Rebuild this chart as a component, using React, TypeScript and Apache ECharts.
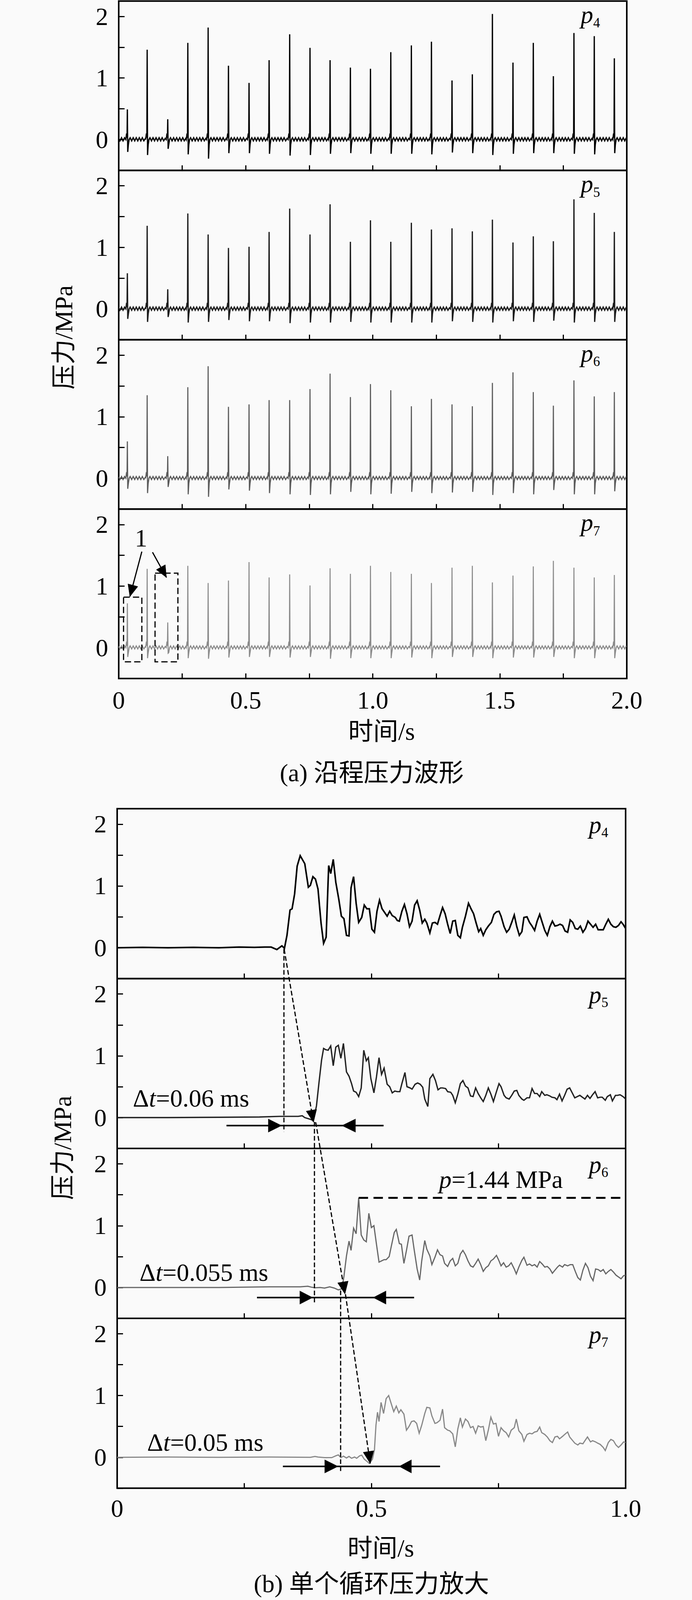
import React, { useEffect, useRef } from 'react';
import * as echarts from 'echarts';

const FONT = "'Liberation Serif','Times New Roman','Noto Sans CJK SC',serif";
const BG = '#fafafa';

// ---------------- Panel (a): pressure waveforms along the line ----------------
const SPIKE_TIMES = [0.034, 0.112, 0.193, 0.272, 0.352, 0.432, 0.513, 0.592, 0.673, 0.753, 0.832, 0.912, 0.991,
  1.071, 1.152, 1.231, 1.312, 1.392, 1.471, 1.552, 1.632, 1.711, 1.792, 1.872, 1.951];

const A_P4_PEAKS = [0.49, 1.46, 0.33, 1.57, 1.82, 1.20, 0.92, 1.29, 1.71, 1.49, 1.29, 1.17, 1.15, 1.42, 1.53, 1.59, 0.96, 1.06, 2.04, 1.25, 1.57, 1.03, 1.73, 1.68, 1.32];
const A_P4_DIPS = [-0.20, -0.25, -0.15, -0.24, -0.31, -0.22, -0.22, -0.23, -0.26, -0.25, -0.23, -0.22, -0.23, -0.23, -0.23, -0.24, -0.21, -0.22, -0.25, -0.23, -0.22, -0.22, -0.23, -0.24, -0.22];
const A_P5_PEAKS = [0.58, 1.35, 0.32, 1.55, 1.21, 0.99, 1.01, 1.25, 1.63, 1.21, 1.70, 1.09, 1.44, 1.09, 1.40, 1.29, 1.31, 1.26, 1.45, 1.08, 1.18, 1.10, 1.78, 1.56, 1.25];
const A_P5_DIPS = [-0.16, -0.21, -0.13, -0.22, -0.21, -0.18, -0.20, -0.20, -0.23, -0.22, -0.22, -0.21, -0.22, -0.22, -0.22, -0.22, -0.20, -0.21, -0.22, -0.20, -0.21, -0.19, -0.22, -0.21, -0.21];
const A_P6_PEAKS = [0.60, 1.35, 0.36, 1.48, 1.82, 1.16, 1.20, 1.27, 1.27, 1.45, 1.70, 1.32, 1.53, 1.43, 1.17, 1.29, 1.20, 1.17, 1.55, 1.72, 1.40, 1.18, 1.59, 1.33, 1.40];
const A_P6_DIPS = [-0.17, -0.24, -0.14, -0.26, -0.30, -0.18, -0.20, -0.24, -0.26, -0.27, -0.26, -0.22, -0.26, -0.25, -0.22, -0.24, -0.23, -0.22, -0.27, -0.24, -0.26, -0.19, -0.26, -0.26, -0.21];
const A_P7_PEAKS = [0.72, 1.28, 0.41, 1.33, 1.05, 1.09, 1.39, 1.14, 1.19, 1.01, 1.29, 1.20, 1.33, 1.23, 1.20, 1.05, 1.30, 1.33, 1.06, 1.17, 1.32, 1.41, 1.30, 1.14, 1.18];
const A_P7_DIPS = [-0.15, -0.17, -0.09, -0.17, -0.18, -0.16, -0.15, -0.15, -0.16, -0.15, -0.18, -0.17, -0.17, -0.17, -0.16, -0.17, -0.15, -0.15, -0.17, -0.16, -0.16, -0.15, -0.17, -0.17, -0.17];

// baseline ripple: [offset from spike (s), pressure (MPa)]
const LEAD_IN = [[0, 0.02], [0.005, -0.02], [0.011, 0.03], [0.017, -0.02], [0.023, 0.03]];
const RIPPLE_BEFORE = [[-0.006, 0.0], [-0.003, 0.1], [-0.0012, 0.03]];
const DIP_OFFSET = 0.0015;
const RIPPLE_AFTER = [[0.004, -0.08], [0.007, 0.0], [0.011, 0.03], [0.017, -0.02], [0.023, 0.03], [0.029, -0.02],
  [0.035, 0.03], [0.041, -0.02], [0.047, 0.03], [0.053, -0.02], [0.059, 0.03], [0.065, -0.02], [0.071, 0.02]];

// ---------------- Panel (b): single cycle enlarged ----------------
const B_P4 = [[0, 0], [0.05, 0.005], [0.1, 0], [0.15, 0.005], [0.2, 0], [0.24, 0.01], [0.27, 0.005], [0.29, 0.01],
  [0.303, 0.01], [0.314, -0.03], [0.324, 0.03], [0.329, -0.01], [0.334, 0.20], [0.340, 0.61], [0.344, 0.63], [0.349, 0.87],
  [0.354, 1.32], [0.360, 1.49], [0.369, 1.36], [0.376, 0.98], [0.380, 1.01], [0.385, 1.15], [0.390, 1.11], [0.395, 0.95],
  [0.401, 0.40], [0.406, 0.07], [0.411, 0.17], [0.416, 1.33], [0.420, 1.20], [0.425, 1.43], [0.430, 1.06], [0.436, 0.78],
  [0.441, 0.51], [0.446, 0.47], [0.451, 0.20], [0.456, 0.19], [0.460, 0.97], [0.465, 1.15], [0.470, 0.72], [0.475, 0.41],
  [0.481, 0.49], [0.486, 0.69], [0.491, 0.63], [0.496, 0.63], [0.501, 0.30], [0.506, 0.25], [0.511, 0.59], [0.516, 0.77],
  [0.521, 0.63], [0.526, 0.57], [0.531, 0.51], [0.536, 0.59], [0.541, 0.52], [0.547, 0.49], [0.551, 0.44], [0.555, 0.43],
  [0.560, 0.59], [0.565, 0.70], [0.570, 0.55], [0.575, 0.34], [0.580, 0.43], [0.585, 0.69], [0.590, 0.76], [0.595, 0.61],
  [0.600, 0.40], [0.605, 0.46], [0.609, 0.40], [0.615, 0.24], [0.620, 0.40], [0.625, 0.41], [0.630, 0.38], [0.635, 0.52],
  [0.640, 0.65], [0.645, 0.55], [0.650, 0.38], [0.655, 0.23], [0.660, 0.43], [0.665, 0.44], [0.670, 0.20], [0.675, 0.16],
  [0.679, 0.33], [0.685, 0.51], [0.691, 0.72], [0.696, 0.63], [0.701, 0.55], [0.706, 0.40], [0.711, 0.26], [0.715, 0.31],
  [0.720, 0.20], [0.725, 0.29], [0.730, 0.35], [0.736, 0.41], [0.741, 0.54], [0.746, 0.58], [0.751, 0.59], [0.755, 0.51],
  [0.761, 0.34], [0.766, 0.25], [0.771, 0.30], [0.776, 0.41], [0.781, 0.53], [0.786, 0.34], [0.791, 0.20], [0.796, 0.26],
  [0.800, 0.49], [0.806, 0.50], [0.811, 0.41], [0.816, 0.35], [0.821, 0.28], [0.826, 0.43], [0.831, 0.54], [0.836, 0.41],
  [0.841, 0.28], [0.846, 0.20], [0.851, 0.34], [0.856, 0.43], [0.861, 0.35], [0.866, 0.36], [0.871, 0.38], [0.876, 0.36],
  [0.881, 0.27], [0.886, 0.25], [0.891, 0.45], [0.896, 0.41], [0.901, 0.31], [0.906, 0.30], [0.911, 0.35], [0.916, 0.25],
  [0.921, 0.31], [0.926, 0.43], [0.931, 0.38], [0.936, 0.33], [0.941, 0.38], [0.946, 0.29], [0.951, 0.29], [0.956, 0.29],
  [0.961, 0.38], [0.966, 0.46], [0.971, 0.38], [0.976, 0.34], [0.981, 0.33], [0.986, 0.36], [0.991, 0.42], [0.995, 0.38],
  [1.000, 0.31]];

const B_P5 = [[0, 0], [0.1, 0], [0.2, 0.005], [0.28, 0.01], [0.32, 0.02], [0.356, 0.02], [0.364, 0.03], [0.369, 0.0],
  [0.381, -0.03], [0.386, -0.05], [0.392, 0.19], [0.397, 0.57], [0.402, 0.93], [0.406, 1.12], [0.410, 1.10], [0.415, 1.09],
  [0.420, 1.16], [0.425, 0.84], [0.430, 1.14], [0.435, 1.17], [0.440, 0.96], [0.445, 1.20], [0.451, 0.74], [0.456, 0.67],
  [0.461, 0.55], [0.465, 0.43], [0.470, 0.41], [0.475, 0.34], [0.480, 0.48], [0.485, 1.09], [0.490, 0.92], [0.494, 0.97],
  [0.499, 0.63], [0.505, 0.40], [0.510, 0.66], [0.515, 0.97], [0.520, 0.70], [0.525, 0.80], [0.531, 0.54], [0.536, 0.50],
  [0.541, 0.40], [0.546, 0.43], [0.551, 0.42], [0.556, 0.42], [0.560, 0.55], [0.566, 0.73], [0.570, 0.50], [0.576, 0.48],
  [0.580, 0.46], [0.586, 0.54], [0.591, 0.56], [0.596, 0.54], [0.601, 0.49], [0.605, 0.30], [0.611, 0.18], [0.615, 0.63],
  [0.621, 0.70], [0.626, 0.60], [0.631, 0.45], [0.636, 0.48], [0.640, 0.48], [0.646, 0.47], [0.650, 0.42], [0.656, 0.41],
  [0.660, 0.36], [0.665, 0.24], [0.670, 0.38], [0.675, 0.55], [0.680, 0.60], [0.685, 0.51], [0.690, 0.48], [0.695, 0.35],
  [0.700, 0.34], [0.705, 0.48], [0.710, 0.39], [0.715, 0.32], [0.720, 0.26], [0.725, 0.36], [0.730, 0.48], [0.735, 0.38],
  [0.740, 0.26], [0.746, 0.42], [0.751, 0.55], [0.755, 0.50], [0.761, 0.36], [0.765, 0.32], [0.771, 0.30], [0.776, 0.36],
  [0.781, 0.43], [0.786, 0.44], [0.790, 0.36], [0.796, 0.30], [0.800, 0.28], [0.806, 0.32], [0.811, 0.32], [0.816, 0.47],
  [0.821, 0.39], [0.826, 0.39], [0.831, 0.34], [0.835, 0.42], [0.841, 0.36], [0.845, 0.37], [0.851, 0.35], [0.855, 0.33],
  [0.861, 0.32], [0.865, 0.29], [0.870, 0.38], [0.875, 0.27], [0.880, 0.36], [0.885, 0.46], [0.890, 0.48], [0.895, 0.40],
  [0.900, 0.32], [0.905, 0.34], [0.910, 0.36], [0.915, 0.33], [0.920, 0.30], [0.925, 0.36], [0.930, 0.31], [0.935, 0.37],
  [0.940, 0.42], [0.945, 0.32], [0.950, 0.33], [0.954, 0.33], [0.960, 0.28], [0.964, 0.34], [0.970, 0.37], [0.974, 0.27],
  [0.980, 0.36], [0.984, 0.36], [0.989, 0.37], [0.995, 0.34], [1.000, 0.30]];

const B_P6 = [[0, 0], [0.1, 0], [0.2, 0], [0.3, 0.01], [0.36, 0.01], [0.375, 0.02], [0.382, 0.005], [0.389, -0.005],
  [0.399, 0.0], [0.408, -0.01], [0.418, 0.01], [0.427, -0.01], [0.435, -0.04], [0.442, -0.02], [0.446, 0.18], [0.451, 0.51],
  [0.456, 0.75], [0.460, 0.60], [0.465, 0.96], [0.470, 0.87], [0.475, 1.45], [0.480, 0.85], [0.485, 0.77], [0.490, 0.74],
  [0.495, 1.20], [0.500, 0.97], [0.505, 1.00], [0.510, 0.70], [0.515, 0.41], [0.520, 0.43], [0.525, 0.45], [0.529, 0.45],
  [0.535, 0.50], [0.539, 0.66], [0.545, 0.89], [0.549, 0.94], [0.555, 0.71], [0.559, 0.70], [0.564, 0.39], [0.569, 0.60],
  [0.574, 0.83], [0.580, 0.85], [0.584, 0.62], [0.590, 0.30], [0.595, 0.12], [0.599, 0.43], [0.605, 0.76], [0.609, 0.62],
  [0.615, 0.51], [0.619, 0.37], [0.625, 0.49], [0.630, 0.61], [0.635, 0.53], [0.640, 0.51], [0.644, 0.39], [0.650, 0.34],
  [0.655, 0.43], [0.660, 0.47], [0.665, 0.35], [0.670, 0.39], [0.675, 0.54], [0.680, 0.60], [0.685, 0.53], [0.690, 0.43],
  [0.695, 0.35], [0.700, 0.33], [0.705, 0.39], [0.710, 0.46], [0.715, 0.37], [0.720, 0.26], [0.725, 0.32], [0.730, 0.35],
  [0.735, 0.43], [0.740, 0.46], [0.746, 0.52], [0.750, 0.45], [0.755, 0.35], [0.760, 0.40], [0.765, 0.33], [0.770, 0.35],
  [0.775, 0.40], [0.781, 0.30], [0.785, 0.22], [0.790, 0.33], [0.796, 0.44], [0.800, 0.49], [0.806, 0.36], [0.811, 0.38],
  [0.816, 0.35], [0.821, 0.37], [0.826, 0.33], [0.831, 0.42], [0.836, 0.38], [0.841, 0.33], [0.846, 0.34], [0.851, 0.30],
  [0.856, 0.23], [0.861, 0.28], [0.866, 0.33], [0.870, 0.36], [0.876, 0.33], [0.880, 0.37], [0.886, 0.35], [0.891, 0.37],
  [0.896, 0.37], [0.901, 0.26], [0.906, 0.16], [0.911, 0.12], [0.916, 0.28], [0.921, 0.39], [0.926, 0.32], [0.931, 0.18],
  [0.936, 0.11], [0.941, 0.30], [0.946, 0.29], [0.951, 0.26], [0.956, 0.29], [0.961, 0.22], [0.966, 0.26], [0.971, 0.29],
  [0.976, 0.25], [0.981, 0.20], [0.986, 0.17], [0.991, 0.14], [0.996, 0.19], [1.000, 0.20]];

const B_P7 = [[0, 0], [0.1, 0.005], [0.2, 0], [0.3, 0.005], [0.38, 0], [0.389, 0.015], [0.395, 0.005], [0.408, -0.005],
  [0.422, -0.005], [0.430, 0.025], [0.435, 0.04], [0.440, -0.005], [0.445, 0.02], [0.451, -0.01], [0.456, 0.015],
  [0.461, -0.015], [0.467, 0.005], [0.471, -0.015], [0.477, 0.025], [0.481, 0.035], [0.486, -0.03], [0.492, -0.07],
  [0.496, -0.10], [0.502, -0.03], [0.506, 0.12], [0.509, 0.52], [0.512, 0.73], [0.515, 0.58], [0.519, 0.89], [0.524, 0.71],
  [0.529, 0.95], [0.534, 1.00], [0.539, 0.87], [0.544, 0.74], [0.549, 0.83], [0.554, 0.72], [0.558, 0.77], [0.564, 0.70],
  [0.569, 0.44], [0.574, 0.50], [0.579, 0.58], [0.584, 0.59], [0.589, 0.55], [0.594, 0.39], [0.599, 0.52], [0.605, 0.71],
  [0.609, 0.81], [0.615, 0.80], [0.619, 0.67], [0.625, 0.55], [0.629, 0.56], [0.635, 0.60], [0.640, 0.78], [0.644, 0.48],
  [0.650, 0.44], [0.654, 0.43], [0.660, 0.38], [0.665, 0.17], [0.670, 0.46], [0.675, 0.64], [0.679, 0.49], [0.685, 0.62],
  [0.690, 0.58], [0.695, 0.48], [0.700, 0.50], [0.705, 0.39], [0.710, 0.51], [0.715, 0.49], [0.720, 0.50], [0.725, 0.27],
  [0.730, 0.44], [0.735, 0.65], [0.740, 0.54], [0.745, 0.55], [0.750, 0.34], [0.755, 0.48], [0.760, 0.43], [0.765, 0.40],
  [0.770, 0.33], [0.775, 0.44], [0.781, 0.48], [0.785, 0.62], [0.790, 0.43], [0.796, 0.37], [0.800, 0.26], [0.806, 0.37],
  [0.811, 0.39], [0.816, 0.38], [0.821, 0.41], [0.826, 0.42], [0.831, 0.49], [0.835, 0.40], [0.841, 0.37], [0.846, 0.33],
  [0.851, 0.27], [0.856, 0.24], [0.861, 0.33], [0.866, 0.34], [0.870, 0.30], [0.876, 0.34], [0.880, 0.37], [0.886, 0.41],
  [0.890, 0.33], [0.896, 0.27], [0.900, 0.23], [0.906, 0.20], [0.910, 0.23], [0.916, 0.22], [0.920, 0.27], [0.925, 0.33],
  [0.931, 0.25], [0.935, 0.27], [0.941, 0.25], [0.945, 0.23], [0.950, 0.21], [0.956, 0.16], [0.960, 0.11], [0.966, 0.24],
  [0.971, 0.29], [0.976, 0.27], [0.981, 0.20], [0.986, 0.16], [0.991, 0.20], [0.996, 0.25], [1.000, 0.24]];

const SENSOR_NAMES = ['4', '5', '6', '7'];
const Y_TICK_LABELS = ['0', '1', '2'];

// annotation anchors (data coordinates)
const A_BOXES = [{ x0: 0.019, x1: 0.091, y0: -0.23, y1: 0.82 }, { x0: 0.143, x1: 0.233, y0: -0.23, y1: 1.21 }];
const A_LABEL_1 = [0.088, 1.78];
const A_ARROWS = [{ from: [0.091, 1.56], to: [0.044, 0.83] }, { from: [0.133, 1.55], to: [0.188, 1.14] }];

const B_DT_LABELS = [
  { g: 5, t: 0.031, v: 0.31, text: '=0.06 ms' },
  { g: 6, t: 0.044, v: 0.24, text: '=0.055 ms' },
  { g: 7, t: 0.059, v: 0.24, text: '=0.05 ms' },
];
const B_SPANS = [
  { g: 5, v: -0.13, x0: 0.215, x1: 0.524, rTip: 0.324, rBase: 0.297, lTip: 0.4415, lBase: 0.469 },
  { g: 6, v: -0.163, x0: 0.275, x1: 0.584, rTip: 0.385, rBase: 0.359, lTip: 0.503, lBase: 0.529 },
  { g: 7, v: -0.147, x0: 0.326, x1: 0.635, rTip: 0.435, rBase: 0.408, lTip: 0.554, lBase: 0.579 },
];
const B_VLINES = [
  { g0: 4, g1: 5, t: 0.328, v0: -0.02, v1: -0.23 },
  { g0: 5, g1: 6, t: 0.388, v0: -0.07, v1: -0.26 },
  { g0: 6, g1: 7, t: 0.4395, v0: -0.05, v1: -0.23 },
];
const B_SLANTS = [
  { g0: 4, t0: 0.3285, v0: -0.025, g1: 5, t1: 0.386, v1: -0.075 },
  { g0: 5, t0: 0.3905, v0: -0.075, g1: 6, t1: 0.448, v1: -0.105 },
  { g0: 6, t0: 0.449, v0: -0.11, g1: 7, t1: 0.4977, v1: -0.10 },
];
const B_PEAK_LINE = { g: 6, v: 1.45, t0: 0.475, t1: 1.0 };
const B_PEAK_LABEL = { g: 6, t: 0.633, v: 1.75, text: '=1.44 MPa' };

// ---------------- layout ----------------
// The photographed page is at most 4096 px tall, so the 4681 px tall figure is laid out
// with every vertical position scaled by S; horizontal positions are kept.
const PAGE_W = 1772;
const PAGE_H = 4096;
const S = PAGE_H / 4681;
const sy = (v: number) => v * S;

const A_LEFT = 304, A_WIDTH = 1301, A_HEIGHT = sy(495.5);
const A_TOPS = [3, 498.5, 994, 1489.5].map(sy);
const B_LEFT = 300, B_WIDTH = 1302, B_HEIGHT = sy(497);
const B_TOPS = [2366, 2863, 3360, 3857].map(sy);
const A_COLORS = ['#000000', '#1c1c1c', '#5a5a5a', '#8a8a8a'];
const A_WIDTHS = [3.2, 3.2, 2.8, 2.6];
const B_COLORS = ['#000000', '#222222', '#666666', '#888888'];
const B_WIDTHS = [4, 3.4, 3, 3];
const TICK_FONT = 64;
const TEXT_FONT = 64;

function buildTrain(peaks: number[], dips: number[]) {
  const pts: number[][] = LEAD_IN.map((p) => [p[0], p[1]]);
  SPIKE_TIMES.forEach((t, i) => {
    RIPPLE_BEFORE.forEach(([dt, v]) => pts.push([t + dt, v]));
    pts.push([t, peaks[i]]);
    pts.push([t + DIP_OFFSET, dips[i]]);
    RIPPLE_AFTER.forEach(([dt, v]) => {
      if (t + dt <= 2) pts.push([t + dt, v]);
    });
  });
  return pts;
}

const yLabel = (v: number) => {
  const idx = [0, 1, 2].indexOf(v);
  return idx >= 0 ? Y_TICK_LABELS[idx] : '';
};
const xLabel = (v: number) => {
  if (Math.abs(v * 2 - Math.round(v * 2)) > 1e-6) return '';
  return v === 0 ? '0' : v.toFixed(1);
};

function buildOption() {
  const grids: any[] = [];
  const xAxes: any[] = [];
  const yAxes: any[] = [];
  const series: any[] = [];
  const trainsA = [
    buildTrain(A_P4_PEAKS, A_P4_DIPS),
    buildTrain(A_P5_PEAKS, A_P5_DIPS),
    buildTrain(A_P6_PEAKS, A_P6_DIPS),
    buildTrain(A_P7_PEAKS, A_P7_DIPS),
  ];
  const trainsB = [B_P4, B_P5, B_P6, B_P7];
  for (let i = 0; i < 8; i++) {
    const isA = i < 4;
    const k = i % 4;
    grids.push({
      left: isA ? A_LEFT : B_LEFT,
      top: isA ? A_TOPS[k] : B_TOPS[k],
      width: isA ? A_WIDTH : B_WIDTH,
      height: isA ? A_HEIGHT : B_HEIGHT,
      show: true,
      borderColor: '#000',
      borderWidth: 4,
      backgroundColor: 'transparent',
    });
    xAxes.push({
      type: 'value',
      gridIndex: i,
      min: 0,
      max: isA ? 2 : 1,
      interval: 0.25,
      axisLine: { show: false, onZero: false },
      axisTick: { show: true, inside: true, length: 13, lineStyle: { color: '#000', width: 3 } },
      splitLine: { show: false },
      axisLabel: {
        show: k === 3,
        formatter: xLabel,
        fontFamily: FONT,
        fontSize: TICK_FONT,
        color: '#000',
        margin: isA ? 24 : 20,
      },
    });
    yAxes.push({
      type: 'value',
      gridIndex: i,
      min: -0.5,
      max: 2.25,
      interval: 0.5,
      axisLine: { show: false, onZero: false },
      axisTick: { show: true, inside: true, length: 15, lineStyle: { color: '#000', width: 3 } },
      splitLine: { show: false },
      axisLabel: { formatter: yLabel, fontFamily: FONT, fontSize: TICK_FONT, color: '#000', margin: 27 },
    });
    series.push({
      type: 'line',
      xAxisIndex: i,
      yAxisIndex: i,
      data: isA ? trainsA[k] : trainsB[k],
      symbol: 'none',
      showSymbol: false,
      lineStyle: { color: isA ? A_COLORS[k] : B_COLORS[k], width: isA ? A_WIDTHS[k] : B_WIDTHS[k], join: 'miter' },
      z: 3,
    });
  }
  return {
    animation: false,
    backgroundColor: BG,
    grid: grids,
    xAxis: xAxes,
    yAxis: yAxes,
    series,
  };
}

function buildGraphics(chart: any) {
  const px = (g: number, x: number, y: number) => chart.convertToPixel({ gridIndex: g }, [x, y]) as number[];
  const els: any[] = [];
  const Z = 100;
  const text = (x: number, y: number, t: string, size: number, extra: any = {}) => ({
    type: 'text',
    x,
    y,
    z: Z,
    ...extra.el,
    style: {
      text: t,
      fontFamily: FONT,
      fontSize: size,
      fill: '#000',
      align: extra.align || 'left',
      verticalAlign: 'middle',
      textAlign: extra.align || 'left',
      textVerticalAlign: 'middle',
      fontStyle: extra.italic ? 'italic' : 'normal',
      ...(extra.rich ? { rich: extra.rich } : {}),
    },
  });
  const head = (tip: number[], from: number[], len: number, width: number) => {
    const dx = tip[0] - from[0];
    const dy = tip[1] - from[1];
    const L = Math.hypot(dx, dy);
    const ux = dx / L, uy = dy / L;
    const bx = tip[0] - ux * len, by = tip[1] - uy * len;
    const nx = -uy, ny = ux;
    return {
      type: 'polygon',
      z: Z,
      shape: { points: [[tip[0], tip[1]], [bx + (nx * width) / 2, by + (ny * width) / 2], [bx - (nx * width) / 2, by - (ny * width) / 2]] },
      style: { fill: '#000', stroke: '#000', lineWidth: 1 },
    };
  };
  const rich = {
    n: { fontFamily: FONT, fontSize: TEXT_FONT, fontStyle: 'normal', fill: '#000' },
    i: { fontFamily: FONT, fontSize: TEXT_FONT, fontStyle: 'italic', fill: '#000' },
  };

  // sensor labels p4..p7
  for (let i = 0; i < 8; i++) {
    const isA = i < 4;
    const k = i % 4;
    const top = isA ? A_TOPS[k] : B_TOPS[k];
    const right = isA ? A_LEFT + A_WIDTH : B_LEFT + B_WIDTH;
    const pLeft = isA ? right - 118 : right - 94;
    const pBase = top + sy(isA ? 59 : 71) + (isA ? 4 : 0);
    const sBase = top + sy(isA ? 73 : 84) + (isA ? 4 : 0);
    els.push(text(pLeft, pBase - 21, 'p', 64, { italic: true }));
    els.push(text(pLeft + 32, sBase - 12, SENSOR_NAMES[k], 35));
  }

  // axis names and captions
  const aMidY = A_TOPS[0] + (A_TOPS[3] + A_HEIGHT - A_TOPS[0]) / 2;
  const bMidY = B_TOPS[0] + (B_TOPS[3] + B_HEIGHT - B_TOPS[0]) / 2;
  els.push(text(163, aMidY - sy(7), '压力/MPa', TEXT_FONT, { align: 'center', el: { rotation: Math.PI / 2 } }));
  els.push(text(160, bMidY - sy(2), '压力/MPa', TEXT_FONT, { align: 'center', el: { rotation: Math.PI / 2 } }));
  els.push(text(977, sy(2140), '时间/s', TEXT_FONT, { align: 'center' }));
  els.push(text(975, sy(4530), '时间/s', TEXT_FONT, { align: 'center' }));
  els.push(text(952, sy(2261), '(a) 沿程压力波形', TEXT_FONT, { align: 'center' }));
  els.push(text(951, Math.min(sy(4637), PAGE_H - 42), '(b) 单个循环压力放大', TEXT_FONT, { align: 'center' }));

  // panel (a) p7: dashed boxes, label "1", arrows
  A_BOXES.forEach((b) => {
    const p0 = px(3, b.x0, b.y1);
    const p1 = px(3, b.x1, b.y0);
    els.push({
      type: 'rect',
      z: Z,
      shape: { x: p0[0], y: p0[1], width: p1[0] - p0[0], height: p1[1] - p0[1] },
      style: { fill: 'none', stroke: '#000', lineWidth: 3, lineDash: [16, 8] },
    });
  });
  const l1 = px(3, A_LABEL_1[0], A_LABEL_1[1]);
  els.push(text(l1[0], l1[1], '1', TEXT_FONT, { align: 'center' }));
  A_ARROWS.forEach((a) => {
    const f = px(3, a.from[0], a.from[1]);
    const t = px(3, a.to[0], a.to[1]);
    els.push({ type: 'line', z: Z, shape: { x1: f[0], y1: f[1], x2: t[0], y2: t[1] }, style: { stroke: '#000', lineWidth: 3 } });
    els.push(head(t, f, 30, 26));
  });

  // panel (b) annotations
  B_DT_LABELS.forEach((d) => {
    const p = px(d.g, d.t, d.v);
    els.push(text(p[0], p[1], `{n|Δ}{i|t}{n|${d.text}}`, TEXT_FONT, { rich }));
  });
  const half = sy(20);
  B_SPANS.forEach((s) => {
    const a = px(s.g, s.x0, s.v);
    const b = px(s.g, s.x1, s.v);
    els.push({ type: 'line', z: Z, shape: { x1: a[0], y1: a[1], x2: b[0], y2: b[1] }, style: { stroke: '#000', lineWidth: 4 } });
    const rt = px(s.g, s.rTip, s.v);
    const rb = px(s.g, s.rBase, s.v);
    const lt = px(s.g, s.lTip, s.v);
    const lb = px(s.g, s.lBase, s.v);
    els.push({ type: 'polygon', z: Z, shape: { points: [[rt[0], rt[1]], [rb[0], rb[1] - half], [rb[0], rb[1] + half]] }, style: { fill: '#000' } });
    els.push({ type: 'polygon', z: Z, shape: { points: [[lt[0], lt[1]], [lb[0], lb[1] - half], [lb[0], lb[1] + half]] }, style: { fill: '#000' } });
  });
  B_VLINES.forEach((v) => {
    const a = px(v.g0, v.t, v.v0);
    const b = px(v.g1, v.t, v.v1);
    els.push({ type: 'line', z: Z, shape: { x1: a[0], y1: a[1], x2: b[0], y2: b[1] }, style: { stroke: '#000', lineWidth: 3, lineDash: [12, 6] } });
  });
  B_SLANTS.forEach((s) => {
    const a = px(s.g0, s.t0, s.v0);
    const b = px(s.g1, s.t1, s.v1);
    els.push({ type: 'line', z: Z, shape: { x1: a[0], y1: a[1], x2: b[0], y2: b[1] }, style: { stroke: '#000', lineWidth: 3, lineDash: [12, 6] } });
    els.push(head(b, a, 31, 27));
  });
  {
    const a = px(B_PEAK_LINE.g, B_PEAK_LINE.t0, B_PEAK_LINE.v);
    const b = px(B_PEAK_LINE.g, B_PEAK_LINE.t1, B_PEAK_LINE.v);
    els.push({ type: 'line', z: Z, shape: { x1: a[0], y1: a[1], x2: b[0], y2: b[1] }, style: { stroke: '#000', lineWidth: 5, lineDash: [24, 14] } });
    const p = px(B_PEAK_LABEL.g, B_PEAK_LABEL.t, B_PEAK_LABEL.v);
    els.push(text(p[0], p[1], `{i|p}{n|${B_PEAK_LABEL.text}}`, TEXT_FONT, { rich }));
  }
  return els;
}

export default function App() {
  const ref = useRef<HTMLDivElement>(null);
  useEffect(() => {
    if (!ref.current) return;
    const chart = echarts.init(ref.current, null, { renderer: 'svg' });
    chart.setOption(buildOption());
    chart.setOption({ graphic: { elements: buildGraphics(chart) } });
    return () => chart.dispose();
  }, []);
  return (
    <div
      ref={ref}
      style={{ position: 'absolute', left: 0, top: 0, width: PAGE_W, height: PAGE_H, background: BG }}
    />
  );
}
